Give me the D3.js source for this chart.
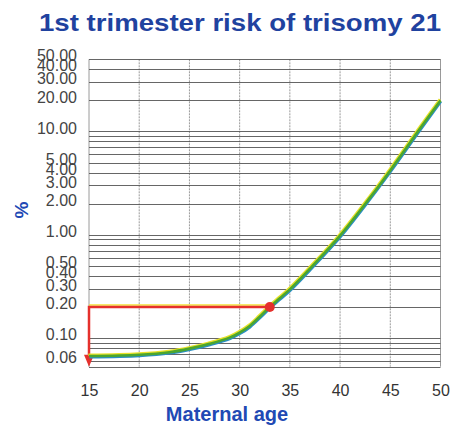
<!DOCTYPE html>
<html>
<head>
<meta charset="utf-8">
<script src="https://cdn.jsdelivr.net/npm/d3@7"></script>
<style>
  body { margin: 0; background: #fff; }
  svg { display: block; font-family: "Liberation Sans", Arial, sans-serif; }
</style>
</head>
<body>
<div id="chart"></div>
<script>
// data
var ages  = [15, 20, 23, 25, 27, 29, 30, 31, 32, 33, 34, 35, 37, 40, 43, 45, 48, 50];
var risks = [0.067, 0.069, 0.073, 0.079, 0.088, 0.101, 0.113, 0.131, 0.161, 0.2, 0.243, 0.296, 0.47, 0.98, 2.3, 4.2, 10.8, 20];
var xTicks = [15, 20, 25, 30, 35, 40, 45, 50];
var yLabels = [50, 40, 30, 20, 10, 5, 4, 3, 2, 1, 0.5, 0.4, 0.3, 0.2, 0.1, 0.06];
var yGrid = [50, 40, 30, 20, 10, 9, 8, 7, 6, 5, 4, 3, 2, 1, 0.9, 0.8, 0.7, 0.6, 0.5, 0.4, 0.3, 0.2, 0.1, 0.09, 0.08, 0.07, 0.06];
var markAge = 33, markRisk = 0.2;

var width = 466, height = 432;
var svg = d3.select("#chart").append("svg")
    .attr("width", width)
    .attr("height", height);

var x = d3.scaleLinear().domain([15, 50]).range([89, 440.5]);
var y = d3.scaleLog().domain([0.0528, 50]).range([366.7, 59.3]);

// title
svg.append("text")
    .attr("x", 240).attr("y", 31)
    .attr("text-anchor", "middle")
    .attr("textLength", 402)
    .attr("lengthAdjust", "spacingAndGlyphs")
    .style("font-size", "24px").style("font-weight", "bold")
    .style("fill", "#1f429f")
    .text("1st trimester risk of trisomy 21");

// vertical grid
svg.append("g").selectAll("line")
    .data(xTicks)
    .enter().append("line")
    .attr("x1", d => x(d)).attr("x2", d => x(d))
    .attr("y1", y.range()[1]).attr("y2", y.range()[0])
    .attr("stroke", "#9a9a9a")
    .attr("stroke-width", 1)
    .attr("stroke-dasharray", d => (d == 15 || d == 50) ? null : "2,1");

// horizontal grid
svg.append("g").selectAll("line")
    .data(yGrid.concat([y.domain()[0]]))
    .enter().append("line")
    .attr("x1", x(15)).attr("x2", x(50))
    .attr("y1", d => Math.round(y(d)) + 0.5).attr("y2", d => Math.round(y(d)) + 0.5)
    .attr("stroke", "#555")
    .attr("stroke-width", 0.9);

// y labels
var yAxis = d3.axisLeft(y).tickValues(yLabels).tickFormat(d3.format(".2f")).tickSize(0).tickPadding(12);
var ga = svg.append("g").attr("transform", "translate(" + x(15) + ",0)").call(yAxis);
ga.select(".domain").remove();
ga.selectAll("text")
    .attr("dy", "0.1em")
    .style("font-size", "16px")
    .style("font-family", "Liberation Sans, Arial, sans-serif")
    .style("fill", "#444");

// x labels
var xAxis = d3.axisBottom(x).tickValues(xTicks).tickSize(0).tickPadding(18);
var gx = svg.append("g").attr("transform", "translate(0," + y.range()[0] + ")").call(xAxis);
gx.select(".domain").remove();
gx.selectAll("text")
    .style("font-size", "16px")
    .style("font-family", "Liberation Sans, Arial, sans-serif")
    .style("fill", "#333");

// axis titles
svg.append("text")
    .attr("x", 227).attr("y", 421)
    .attr("text-anchor", "middle")
    .style("font-size", "20px").style("font-weight", "bold")
    .style("fill", "#2149b4")
    .text("Maternal age");

svg.append("text")
    .attr("transform", "translate(28,210) rotate(-90)")
    .attr("text-anchor", "middle")
    .style("font-size", "19px").style("font-weight", "bold")
    .style("fill", "#2149b4")
    .text("%");

// red guide lines
svg.append("line")
    .attr("x1", x(15)).attr("x2", x(markAge))
    .attr("y1", y(markRisk) - 2).attr("y2", y(markRisk) - 2)
    .attr("stroke", "#f2e23a").attr("stroke-width", 1.5);
svg.append("path")
    .attr("d", "M" + x(markAge) + "," + y(markRisk) + "H" + x(15) + "V" + (y.range()[0] - 10))
    .attr("fill", "none")
    .attr("stroke", "#e5302c").attr("stroke-width", 2.5);
svg.append("path")
    .attr("d", "M" + (x(15) - 5) + "," + (y.range()[0] - 12) + "L" + (x(15) + 5) + "," + (y.range()[0] - 12) + "L" + x(15) + "," + y.range()[0] + "Z")
    .attr("fill", "#e5302c");

// risk curve
var data = ages.map((a, i) => ({age: a, risk: risks[i]}));
var line = d3.line()
    .x(d => x(d.age))
    .y(d => y(d.risk))
    .curve(d3.curveCatmullRom);

svg.append("path").datum(data)
    .attr("d", line)
    .attr("transform", "translate(-0.6,-1.2)")
    .attr("fill", "none").attr("stroke", "#e8e228").attr("stroke-width", 2.5);
svg.append("path").datum(data)
    .attr("d", line)
    .attr("transform", "translate(0.5,1.2)")
    .attr("fill", "none").attr("stroke", "#2a8fc4").attr("stroke-width", 2.5);
svg.append("path").datum(data)
    .attr("d", line)
    .attr("fill", "none").attr("stroke", "#4ca62e").attr("stroke-width", 2.6);

// marker
svg.append("circle")
    .attr("cx", x(markAge)).attr("cy", y(markRisk))
    .attr("r", 5)
    .attr("fill", "#e5302c");
</script>
</body>
</html>
